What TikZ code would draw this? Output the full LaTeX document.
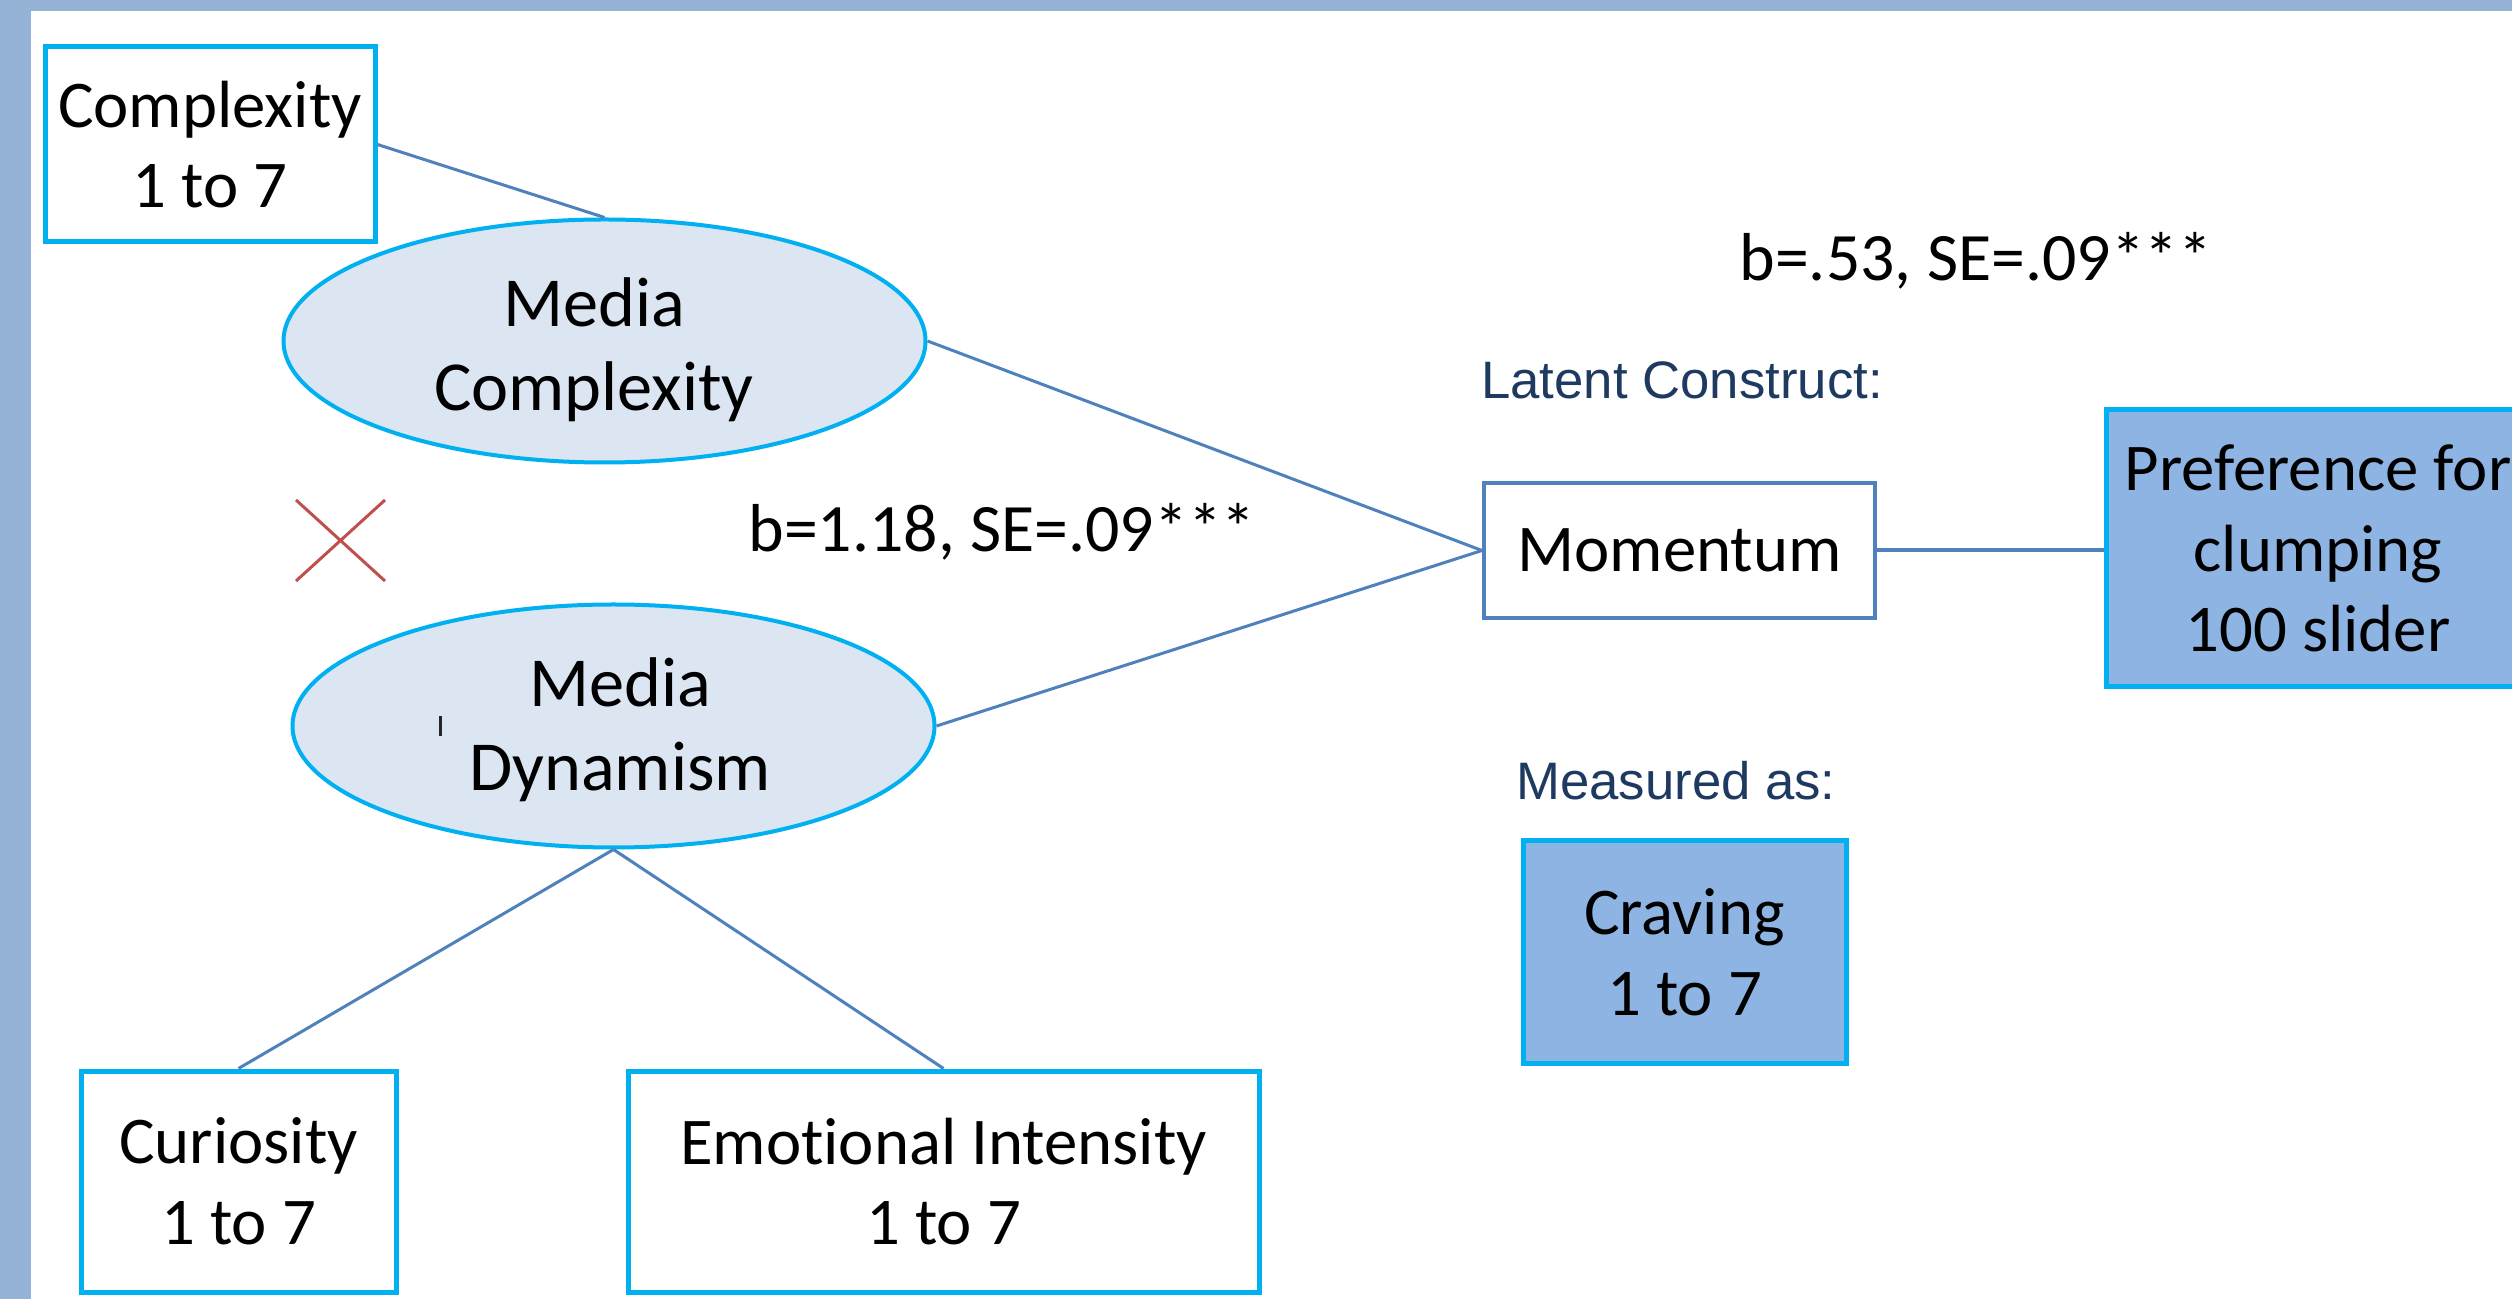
\documentclass[tikz,border=0pt]{standalone}
\usepackage{fontspec}
\setmainfont[Ligatures=NoCommon]{Carlito}
\newfontfamily\arialf{Liberation Sans}
\usetikzlibrary{shapes.geometric,arrows.meta}
\definecolor{frameblue}{HTML}{95B3D7}
\definecolor{cyanb}{HTML}{00B0F0}
\definecolor{lineblue}{HTML}{4F81BD}
\definecolor{ellfill}{HTML}{DCE6F2}
\definecolor{boxfill}{HTML}{8EB4E3}
\definecolor{xred}{HTML}{C0504D}
\definecolor{navy}{HTML}{1F3A60}
\begin{document}
\begin{tikzpicture}[x=0.1mm,y=-0.1mm,
  font=\fontsize{19}{23}\selectfont,
  cbox/.style={draw=cyanb, line width=0.5mm, rectangle, inner sep=0pt, align=center},
  fbox/.style={cbox, fill=boxfill},
  lat/.style={draw=cyanb, fill=ellfill, line width=0.4mm, ellipse, inner sep=0pt, align=center,
              minimum width=64.2mm, minimum height=24.3mm, font=\fontsize{20}{24}\selectfont},
  mbox/.style={draw=lineblue, line width=0.4mm, rectangle, inner sep=0pt, align=center},
  conn/.style={draw=lineblue, line width=0.3mm},
  coef/.style={font=\fontsize{19.3}{23}\selectfont, anchor=base, inner sep=0pt},
  note/.style={font=\arialf\fontsize{15}{18}\selectfont, text=navy, anchor=base, inner sep=0pt}]
\useasboundingbox (0,0) rectangle (2512,1299);
\fill[frameblue] (0,0) rectangle (2512,1299);
\fill[white] (31,11) rectangle (2512,1299);

% nodes
\node[cbox, minimum width=33mm, minimum height=19.5mm] (cplx) at (210,144.5) {Complexity\\1 to 7};
\node[lat] (mc) at (604.5,341) {};
\node[lat] (md) at (613.5,726) {};
\node[font=\fontsize{20}{24}\selectfont, align=center, inner sep=0pt] (mctext) at (594,350) {Media\\Complexity};
\node[font=\fontsize{20}{24}\selectfont, align=center, inner sep=0pt] (mdtext) at (620,730) {Media\\Dynamism};
\node[mbox, minimum width=39.1mm, minimum height=13.5mm] (mom) at (1679.5,550.5) {Momentum};
\node[fbox, minimum width=42.3mm, minimum height=27.7mm] (pref) at (2318,548.5) {Preference for\\clumping\\100 slider};
\node[fbox, minimum width=32.3mm, minimum height=22.3mm] (crav) at (1684.5,952.5) {Craving\\1 to 7};
\node[cbox, minimum width=31.5mm, minimum height=22.1mm] (cur) at (238.5,1181.5) {Curiosity\\1 to 7};
\node[cbox, minimum width=63.1mm, minimum height=22.1mm] (emo) at (943.5,1181.5) {Emotional Intensity\\1 to 7};

% labels
\node[coef] (b53) at (1976,281) {b=.53, SE=.09***};
\node[coef] (b118) at (1002,552) {b=1.18, SE=.09***};
\node[note] (latc) at (1682,399) {Latent Construct:};
\node[note] (meas) at (1676,800) {Measured as:};

% small tick inside Media Dynamism
\draw[line width=0.3mm, black!85] (440,716) -- (440,736);

% red cross
\draw[xred, line width=0.3mm] (296,500) -- (385,581) (385,500) -- (296,581);

% connectors
\draw[conn] (cplx.east) -- (mc.north);
\draw[conn] (mc.east) -- (mom.west);
\draw[conn] (md.east) -- (mom.west);
\draw[conn] (cur.north) -- (md.south);
\draw[conn] (emo.north) -- (md.south);
\draw[conn, line width=0.4mm] (mom.east) -- (mom.east -| pref.west);
\end{tikzpicture}
\end{document}
